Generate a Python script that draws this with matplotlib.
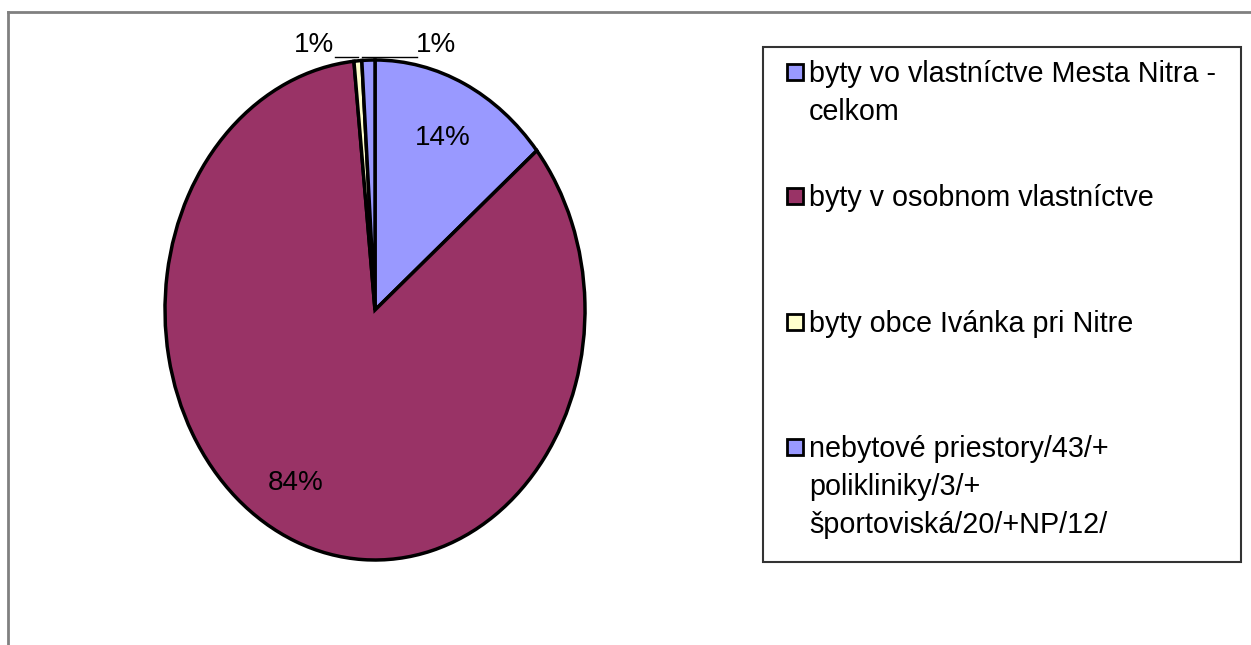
import matplotlib
matplotlib.use('Agg')
import matplotlib.pyplot as plt
from matplotlib.patches import Rectangle
from matplotlib.lines import Line2D
import numpy as np

plt.rcParams['font.family'] = ['Liberation Sans', 'DejaVu Sans']

# data
labels = ['byty vo vlastníctve Mesta Nitra -\ncelkom',
          'byty v osobnom vlastníctve',
          'byty obce Ivánka pri Nitre',
          'nebytové priestory/43/+\npolikliniky/3/+\nšportoviská/20/+NP/12/']
values = [14.0, 84.4, 0.6, 1.0]
colors = ['#9999FF', '#993366', '#FFFFCC', '#9999FF']

W, H = 1251, 645
fig = plt.figure(figsize=(W / 100, H / 100), dpi=100)

# outer chart frame (open on right / bottom, cut by image edge)
fig.add_artist(Line2D([8 / W, 8 / W], [0, 1 - 12 / H], color='#808080', lw=2))
fig.add_artist(Line2D([8 / W, 1], [1 - 12 / H, 1 - 12 / H], color='#808080', lw=2))

# pie, stretched to an ellipse
ax = fig.add_axes([165 / W, 85 / H, 420 / W, 500 / H])
wedges, texts, autotexts = ax.pie(values, colors=colors, startangle=90, counterclock=False,
                                  autopct='%1.0f%%', pctdistance=0.76,
                                  wedgeprops=dict(edgecolor='black', linewidth=2.5),
                                  textprops=dict(fontsize=20))
ax.set_aspect('auto')
ax.set_xlim(-1, 1)
ax.set_ylim(-1, 1)
ax.axis('off')

# nudge the big label a bit outward-left, like Excel placed it
x84, y84 = autotexts[1].get_position()
autotexts[1].set_position((x84 - 0.09, y84 + 0.01))

# small slices: labels above the pie with leader lines
for i, side in [(2, -1), (3, 1)]:
    w = wedges[i]
    mid = np.deg2rad((w.theta1 + w.theta2) / 2)
    xm = np.cos(mid)
    autotexts[i].set_position((side * 0.29, 1.06))
    autotexts[i].set_ha('center')
    autotexts[i].set_va('center')
    autotexts[i].set_clip_on(False)
    x_end = 0.2 if side > 0 else -0.19
    x_start = xm if side < 0 else xm - 0.03
    ax.add_line(Line2D([x_start, x_end], [1.012, 1.012], color='black', lw=1, clip_on=False))

# legend drawn by hand, Excel style
fig.add_artist(Rectangle((763 / W, 1 - 562 / H), (1241 - 763) / W, (562 - 47) / H,
                         transform=fig.transFigure, fill=False, edgecolor='#333333', lw=1.5))
first_base = [82, 206, 332, 457]
pitch = 38
for lab, col, yb in zip(labels, colors, first_base):
    fig.add_artist(Rectangle((787 / W, 1 - (yb - 2) / H), 16 / W, 16 / H,
                             transform=fig.transFigure, facecolor=col,
                             edgecolor='black', lw=2))
    for k, line in enumerate(lab.split('\n')):
        fig.text(809 / W, 1 - (yb + k * pitch) / H, line, fontsize=20.7,
                 va='baseline', ha='left')

fig.savefig('out.png', dpi=100)
